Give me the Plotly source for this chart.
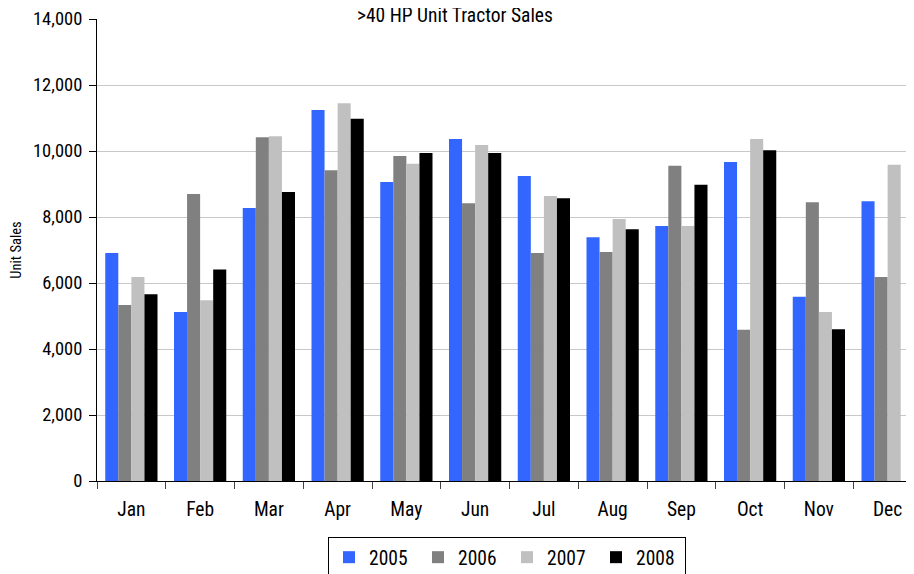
import plotly.graph_objects as go

months = ["Jan", "Feb", "Mar", "Apr", "May", "Jun", "Jul", "Aug", "Sep", "Oct", "Nov", "Dec"]
sales_2005 = [6910, 5120, 8270, 11240, 9060, 10360, 9240, 7390, 7730, 9670, 5580, 8480]
sales_2006 = [5330, 8700, 10420, 9420, 9850, 8420, 6910, 6940, 9550, 4580, 8450, 6180]
sales_2007 = [6180, 5480, 10450, 11450, 9610, 10180, 8640, 7940, 7730, 10360, 5120, 9580]
sales_2008 = [5660, 6410, 8760, 10980, 9940, 9940, 8570, 7630, 8980, 10020, 4600, None]

FONT = "Liberation Sans Narrow, Arial Narrow, Roboto Condensed, sans-serif"

series = [
    ("2005", sales_2005, "#3366FF"),
    ("2006", sales_2006, "#808080"),
    ("2007", sales_2007, "#C0C0C0"),
    ("2008", sales_2008, "#000000"),
]

fig = go.Figure()
for name, vals, col in series:
    fig.add_trace(go.Bar(x=months, y=vals, name=name, marker=dict(color=col, line=dict(width=0))))

L, T, B = 89, 11, 101
PW = 914 - L
PH = 574 - T - B

fig.update_layout(
    width=914, height=574,
    margin=dict(l=L, r=0, t=T, b=B, autoexpand=False),
    paper_bgcolor="white", plot_bgcolor="white",
    barmode="group", bargap=0.24, bargroupgap=0,
    font=dict(family=FONT, size=19, color="black"),
    legend=dict(orientation="h", x=(499 - L) / PW, xanchor="center", y=-(59 - 3) / PH, yanchor="top",
                bordercolor="black", borderwidth=1, bgcolor="white",
                font=dict(family=FONT, size=19.5, color="black"),
                entrywidth=44, entrywidthmode="pixels", itemwidth=30,
                traceorder="normal"),
    showlegend=True,
    annotations=[dict(text=">40 HP Unit Tractor Sales", xref="paper", yref="paper",
                      x=(447 - L) / PW, y=1 + (T - 7) / PH, xanchor="center", yanchor="middle",
                      showarrow=False, font=dict(family=FONT, size=19.5, color="black"))],
)
fig.update_xaxes(
    range=[-0.5, 11.5], showline=True, linecolor="black", linewidth=1,
    ticks="outside", tickson="boundaries", ticklen=7, tickcolor="#444444",
    tickfont=dict(family=FONT, size=19.5, color="black"), ticklabelstandoff=11,
    showgrid=False,
)
fig.update_yaxes(
    range=[0, 14000], dtick=2000, tickformat=",", showline=True, linecolor="black", linewidth=1,
    ticks="outside", ticklen=7, tickcolor="black", ticklabelstandoff=3,
    showgrid=True, gridcolor="#C8C8C8", gridwidth=1,
    tickfont=dict(family=FONT, size=18.5, color="black"),
    title=dict(text="Unit Sales", font=dict(family=FONT, size=14.5, color="black"), standoff=7),
    zeroline=False,
)
fig.write_html("out.html")
